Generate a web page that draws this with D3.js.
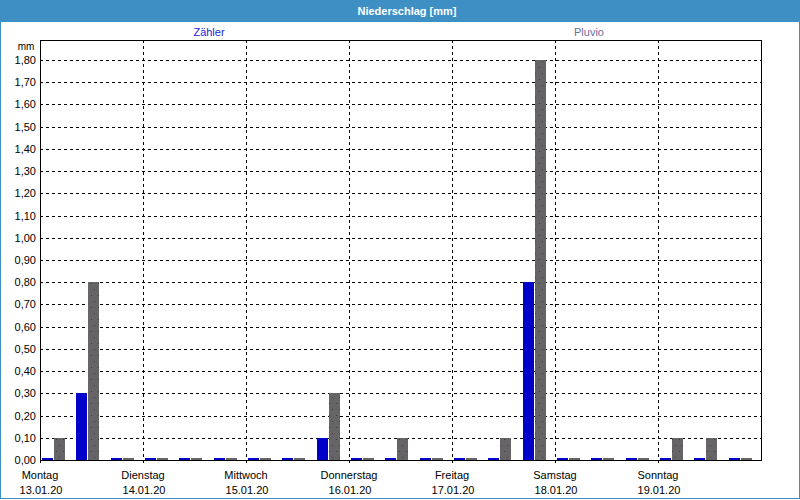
<!DOCTYPE html>
<html>
<head>
<meta charset="utf-8">
<script src="https://cdn.jsdelivr.net/npm/d3@7"></script>
<style>
  body { margin: 0; background: #fff; }
  text { font-family: "Liberation Sans", Arial, sans-serif; }
</style>
</head>
<body>
<div id="chart"></div>
<script>
// Chart data
//=====================================================================
var slots = [
    "2020-01-13T00:00", "2020-01-13T08:00", "2020-01-13T16:00",
    "2020-01-14T00:00", "2020-01-14T08:00", "2020-01-14T16:00",
    "2020-01-15T00:00", "2020-01-15T08:00", "2020-01-15T16:00",
    "2020-01-16T00:00", "2020-01-16T08:00", "2020-01-16T16:00",
    "2020-01-17T00:00", "2020-01-17T08:00", "2020-01-17T16:00",
    "2020-01-18T00:00", "2020-01-18T08:00", "2020-01-18T16:00",
    "2020-01-19T00:00", "2020-01-19T08:00", "2020-01-19T16:00"
];
var zaehler = [0, 0.30, 0, 0, 0, 0, 0, 0, 0.10, 0, 0, 0, 0, 0, 0.80, 0, 0, 0, 0, 0, 0];
var pluvio  = [0.10, 0.80, 0, 0, 0, 0, 0, 0, 0.30, 0, 0.10, 0, 0, 0.10, 1.80, 0, 0, 0, 0.10, 0.10, 0];

var dayNames = ["Montag", "Dienstag", "Mittwoch", "Donnerstag", "Freitag", "Samstag", "Sonntag"];
var dayDates = ["13.01.20", "14.01.20", "15.01.20", "16.01.20", "17.01.20", "18.01.20", "19.01.20"];
var dayStarts = ["2020-01-13", "2020-01-14", "2020-01-15", "2020-01-16", "2020-01-17", "2020-01-18", "2020-01-19"];
var yTicks = [0, 0.1, 0.2, 0.3, 0.4, 0.5, 0.6, 0.7, 0.8, 0.9, 1.0, 1.1, 1.2, 1.3, 1.4, 1.5, 1.6, 1.7, 1.8];

// Setup
//=====================================================================
var svgWidth = 800;
var svgHeight = 500;
var margin = { top: 40, right: 39, bottom: 40, left: 40 };
var width = svgWidth - margin.left - margin.right;
var height = svgHeight - margin.top - margin.bottom;

var parseSlot = d3.utcParse("%Y-%m-%dT%H:%M");
var parseDay = d3.utcParse("%Y-%m-%d");

var data = slots.map(function (s, i) {
    return { t: parseSlot(s), zaehler: zaehler[i], pluvio: pluvio[i] };
});
var days = dayStarts.map(function (d, i) {
    return { t: parseDay(d), name: dayNames[i], date: dayDates[i] };
});

var de = d3.formatLocale({ decimal: ",", thousands: ".", grouping: [3], currency: ["", "€"] });
var fmt = de.format(".2f");

var svg = d3.select("#chart")
    .append("svg")
    .attr("width", svgWidth)
    .attr("height", svgHeight);

// dotted fill for Pluvio bars
var pat = svg.append("defs").append("pattern")
    .attr("id", "dots")
    .attr("patternUnits", "userSpaceOnUse")
    .attr("width", 7)
    .attr("height", 12);
pat.append("rect").attr("width", 7).attr("height", 12).attr("fill", "#666466");
pat.append("rect").attr("x", 2).attr("y", 3).attr("width", 1).attr("height", 1).attr("fill", "#3e3e3e");
pat.append("rect").attr("x", 5).attr("y", 9).attr("width", 1).attr("height", 1).attr("fill", "#3e3e3e");

// frame + title bar
svg.append("rect")
    .attr("x", 0.5).attr("y", 0.5)
    .attr("width", svgWidth - 1).attr("height", svgHeight - 2)
    .attr("fill", "#fff")
    .attr("stroke", "#3d8fc4");

svg.append("rect")
    .attr("x", 0).attr("y", 0)
    .attr("width", svgWidth).attr("height", 22)
    .attr("fill", "#3d8fc4");

svg.append("text")
    .attr("x", 407).attr("y", 15)
    .attr("text-anchor", "middle")
    .attr("fill", "#fff")
    .style("font-size", "11px")
    .style("font-weight", "bold")
    .text("Niederschlag [mm]");

// legend labels
svg.append("text")
    .attr("x", 209).attr("y", 36)
    .attr("text-anchor", "middle")
    .attr("fill", "#1c1ce0")
    .style("font-size", "11px")
    .text("Zähler");

svg.append("text")
    .attr("x", 589).attr("y", 36)
    .attr("text-anchor", "middle")
    .attr("fill", "#6b6b9e")
    .style("font-size", "11px")
    .text("Pluvio");

svg.append("text")
    .attr("x", 26).attr("y", 50)
    .attr("text-anchor", "middle")
    .attr("fill", "#000")
    .style("font-size", "10px")
    .text("mm");

var chartGroup = svg.append("g")
    .attr("transform", `translate(${margin.left}, ${margin.top})`);

// Scales
//=====================================================================
var xScale = d3.scaleUtc()
    .domain([parseDay("2020-01-13"), parseDay("2020-01-20")])
    .range([0, width]);

var yScale = d3.scaleLinear()
    .domain([0, 1.89])
    .range([height, 0]);

var barW = 11;

// horizontal grid + y labels
var leftAxis = d3.axisLeft(yScale)
    .tickValues(yTicks)
    .tickSize(-width)
    .tickPadding(4)
    .tickFormat(fmt);

var yG = chartGroup.append("g").call(leftAxis);
yG.select(".domain").remove();
yG.selectAll("line")
    .attr("stroke", "#000")
    .attr("stroke-dasharray", "3,3")
    .attr("shape-rendering", "crispEdges");
yG.selectAll("text")
    .attr("fill", "#000")
    .style("font-size", "11px")
    .style("font-family", "Liberation Sans, Arial, sans-serif");

// vertical grid at day boundaries
chartGroup.append("g")
    .selectAll("line")
    .data(days.slice(1))
    .enter()
    .append("line")
    .attr("x1", d => Math.round(xScale(d.t)) + 0.5)
    .attr("x2", d => Math.round(xScale(d.t)) + 0.5)
    .attr("y1", 0)
    .attr("y2", height)
    .attr("stroke", "#000")
    .attr("stroke-dasharray", "3,3")
    .attr("shape-rendering", "crispEdges");

// Bars
//=====================================================================
chartGroup.append("g")
    .selectAll("rect")
    .data(data)
    .enter()
    .append("rect")
    .attr("x", d => Math.round(xScale(d.t)) + 2)
    .attr("width", barW)
    .attr("y", d => Math.min(yScale(d.zaehler), height - 2))
    .attr("height", d => Math.max(height - yScale(d.zaehler), 2))
    .attr("fill", "#0000c8")
    .attr("shape-rendering", "crispEdges");

chartGroup.append("g")
    .selectAll("rect")
    .data(data)
    .enter()
    .append("rect")
    .attr("x", d => Math.round(xScale(d.t)) + 2 + barW + 1)
    .attr("width", barW)
    .attr("y", d => Math.min(yScale(d.pluvio), height - 2))
    .attr("height", d => Math.max(height - yScale(d.pluvio), 2))
    .attr("fill", "url(#dots)")
    .attr("shape-rendering", "crispEdges");

// plot border (top, left, right) and baseline
chartGroup.append("path")
    .attr("d", `M0.5,${height}V0.5H${width + 0.5}V${height}`)
    .attr("fill", "none")
    .attr("stroke", "#000")
    .attr("shape-rendering", "crispEdges");

var bottomAxis = d3.axisBottom(xScale)
    .tickValues(days.map(d => d.t))
    .tickSize(3)
    .tickFormat("");

var xG = chartGroup.append("g")
    .attr("transform", `translate(0, ${height})`)
    .call(bottomAxis);
xG.select(".domain").attr("stroke", "#000").attr("d", `M0,0.5H${width + 1}`);
xG.selectAll("line").attr("stroke", "#000");

// day labels
var dayLabels = chartGroup.append("g")
    .selectAll("text")
    .data(days)
    .enter()
    .append("text")
    .attr("text-anchor", "middle")
    .attr("fill", "#000")
    .style("font-size", "11px");

dayLabels.append("tspan")
    .attr("x", d => xScale(d.t))
    .attr("y", height + 19)
    .text(d => d.name);

dayLabels.append("tspan")
    .attr("x", d => xScale(d.t) + 1)
    .attr("y", height + 34)
    .text(d => d.date);
</script>
</body>
</html>
